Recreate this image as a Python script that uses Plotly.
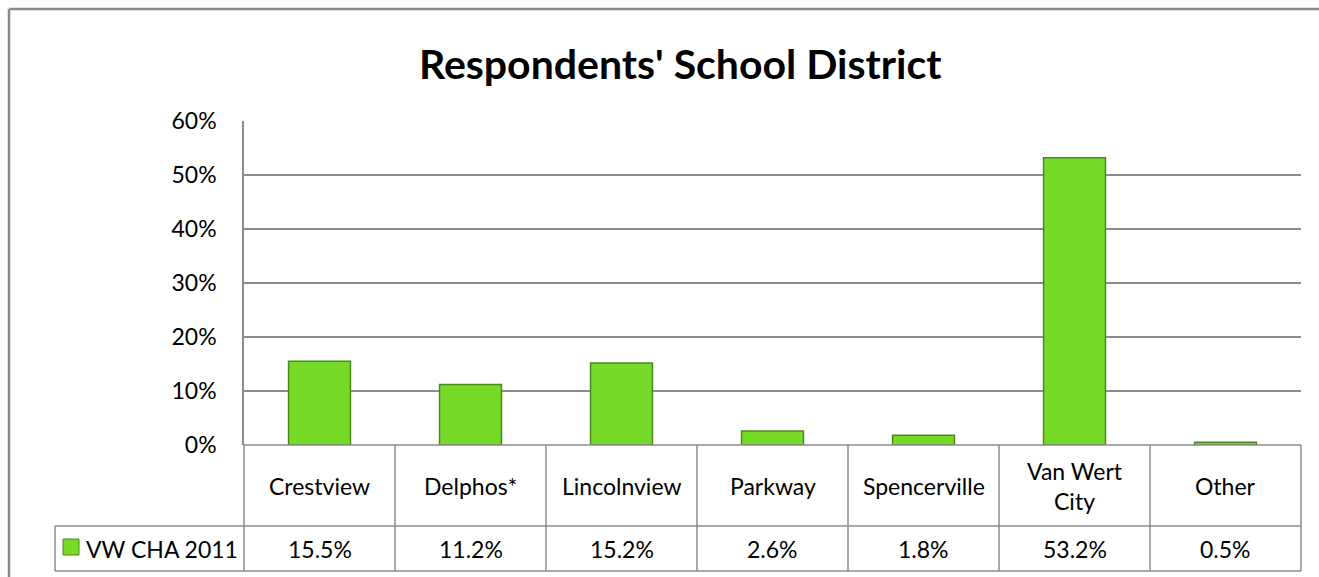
import plotly.graph_objects as go

categories = ["Crestview", "Delphos*", "Lincolnview", "Parkway", "Spencerville", "Van Wert City", "Other"]
category_labels = ["Crestview", "Delphos*", "Lincolnview", "Parkway", "Spencerville", "Van Wert<br>City", "Other"]
values = [15.5, 11.2, 15.2, 2.6, 1.8, 53.2, 0.5]
series_name = "VW CHA 2011"
y_ticks = [0, 10, 20, 30, 40, 50, 60]
y_tick_labels = ["0%", "10%", "20%", "30%", "40%", "50%", "60%"]
title_text = "Respondents' School District"

W, H = 1319, 577
L, R, T, B = 244, 1301, 121, 445  # plot area pixels
FONT = "Lato, Calibri, Carlito, sans-serif"
FS = 23
GRID = "#8c8c8c"
GREEN = "#76da28"
GREEN_DARK = "#4a8a1c"

def px(x):
    return (x - L) / (R - L)

def py(y):
    return (B - y) / (B - T)

fig = go.Figure()
fig.add_trace(go.Bar(
    x=categories, y=values, name=series_name,
    marker=dict(color=GREEN, line=dict(color=GREEN_DARK, width=1.5)),
    width=0.41, showlegend=False,
))

n = len(categories)
shapes = []
line = dict(color=GRID, width=1.5)
row1, row2 = 526, 571
legend_left = 55
# horizontal table lines
shapes.append(dict(type="line", xref="paper", yref="paper", x0=0, x1=1, y0=py(B), y1=py(B), line=line))
for yy in (row1, row2):
    shapes.append(dict(type="line", xref="paper", yref="paper", x0=px(legend_left), x1=1, y0=py(yy), y1=py(yy), line=line))
# vertical table lines
for i in range(n + 1):
    xx = i / n
    shapes.append(dict(type="line", xref="paper", yref="paper", x0=xx, x1=xx, y0=py(B), y1=py(row2), line=line))
shapes.append(dict(type="line", xref="paper", yref="paper", x0=px(legend_left), x1=px(legend_left), y0=py(row1), y1=py(row2), line=line))
# legend key square
shapes.append(dict(type="rect", xref="paper", yref="paper", x0=px(63), x1=px(79), y0=py(555), y1=py(539),
                   fillcolor=GREEN, line=dict(color=GREEN_DARK, width=1)))
# outer chart border (top and left visible)
shapes.append(dict(type="line", xref="paper", yref="paper", x0=px(9), x1=px(W + 5), y0=py(9), y1=py(9),
                   line=dict(color="#8a8a8a", width=2.5)))
shapes.append(dict(type="line", xref="paper", yref="paper", x0=px(9), x1=px(9), y0=py(9), y1=py(H + 5),
                   line=dict(color="#8a8a8a", width=2.5)))

annotations = []
for cat, lab, v in zip(categories, category_labels, values):
    annotations.append(dict(x=cat, xref="x", y=py((B + row1) / 2), yref="paper", text=lab, showarrow=False,
                            font=dict(family=FONT, size=FS, color="#000"), yanchor="middle", xanchor="center"))
    annotations.append(dict(x=cat, xref="x", y=py((row1 + row2) / 2), yref="paper", text=f"{v:.1f}%", showarrow=False,
                            font=dict(family=FONT, size=FS, color="#000"), yanchor="middle", xanchor="center"))
annotations.append(dict(x=px(84), xref="paper", y=py((row1 + row2) / 2), yref="paper", text=series_name, showarrow=False,
                        font=dict(family=FONT, size=FS, color="#000"), yanchor="middle", xanchor="left"))

fig.update_layout(
    width=W, height=H,
    margin=dict(l=L, r=W - R, t=T, b=H - B, pad=0),
    paper_bgcolor="white", plot_bgcolor="white",
    title=dict(text=f"<b>{title_text}</b>", x=0.5157, xanchor="center", y=1 - 65 / H, yanchor="middle",
               font=dict(family=FONT, size=41, color="#000")),
    xaxis=dict(range=[-0.5, n - 0.5], showticklabels=False, showgrid=False, zeroline=False,
               showline=False, ticks=""),
    yaxis=dict(range=[0, 60], tickvals=y_ticks, ticktext=y_tick_labels, showgrid=True, gridcolor=GRID,
               gridwidth=1.5, zeroline=False, showline=True, linecolor=GRID, linewidth=1.5,
               ticks="", ticklabelstandoff=21,
               tickfont=dict(family=FONT, size=FS, color="#000")),
    shapes=shapes, annotations=annotations, bargap=0.59,
)

fig.write_html("out.html")
